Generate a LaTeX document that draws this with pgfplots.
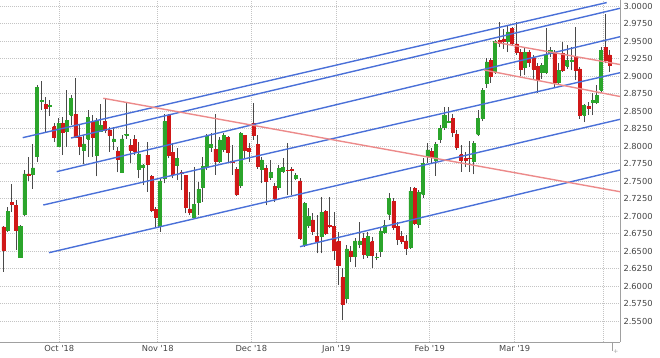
\documentclass[border=0pt]{standalone}
\usepackage{fontspec}
\setmainfont{DejaVu Sans}
\usepackage{pgfplots}
\usepackage{pgfplotstable}
\pgfplotsset{compat=1.18}
\definecolor{candgreen}{HTML}{2BA52B}
\definecolor{candred}{HTML}{D01818}
\definecolor{tline}{HTML}{4A70D8}
\definecolor{pline}{HTML}{EC8A8A}
\definecolor{gridc}{HTML}{C4C4C4}
\definecolor{axc}{HTML}{A0A0A0}
\definecolor{txt}{HTML}{444444}
\definecolor{wickc}{HTML}{4A4A4A}
\pgfplotstableread{
i o h l c
0 2.6843 2.6857 2.6200 2.6514
1 2.6800 2.7129 2.6771 2.7071
2 2.7190 2.7457 2.7057 2.7167
3 2.7147 2.7229 2.6514 2.6800
4 2.6404 2.6871 2.6400 2.6847
5 2.7019 2.7657 2.7005 2.7600
6 2.7600 2.7843 2.7500 2.7586
7 2.7600 2.8029 2.7386 2.7686
8 2.7847 2.8871 2.7771 2.8833
9 2.8636 2.8929 2.8514 2.8650
10 2.8596 2.8704 2.8205 2.8539
11 2.8562 2.8657 2.8433 2.8576
12 2.8276 2.8333 2.8057 2.8119
13 2.8000 2.8396 2.7990 2.8324
14 2.8324 2.8419 2.7871 2.8196
15 2.8205 2.8800 2.7990 2.8362
16 2.8443 2.8729 2.8300 2.8681
17 2.8453 2.8967 2.8110 2.8125
18 2.8119 2.8300 2.7871 2.7990
19 2.7943 2.8157 2.7739 2.8029
20 2.8100 2.8514 2.7847 2.8405
21 2.8348 2.8443 2.7847 2.8119
22 2.7862 2.8396 2.7567 2.8348
23 2.8214 2.8596 2.8205 2.8290
24 2.8357 2.8671 2.8181 2.8229
25 2.8229 2.8276 2.7919 2.8147
26 2.8071 2.8276 2.7943 2.8100
27 2.7929 2.7990 2.7624 2.7810
28 2.7624 2.8157 2.7614 2.8100
29 2.8153 2.8633 2.8100 2.8167
30 2.8004 2.8100 2.7753 2.7943
31 2.8095 2.8157 2.7871 2.7929
32 2.7671 2.8062 2.7538 2.7886
33 2.7690 2.7743 2.7443 2.7729
34 2.7871 2.8062 2.7348 2.7739
35 2.7567 2.7586 2.7053 2.7076
36 2.7090 2.7129 2.6829 2.6981
37 2.6847 2.7539 2.6776 2.7500
38 2.7539 2.8453 2.7467 2.8348
39 2.8433 2.8453 2.7824 2.7862
40 2.7910 2.8039 2.7539 2.7596
41 2.7719 2.7967 2.7514 2.7824
42 2.7624 2.7657 2.7371 2.7604
43 2.7576 2.7586 2.7039 2.7119
44 2.7100 2.7348 2.7014 2.7053
45 2.6976 2.7705 2.6957 2.7167
46 2.7196 2.7490 2.7014 2.7381
47 2.7405 2.7847 2.7205 2.7705
48 2.7705 2.8167 2.7657 2.8133
49 2.7976 2.8181 2.7919 2.8024
50 2.7957 2.8453 2.7586 2.7786
51 2.7786 2.8133 2.7757 2.8086
52 2.7957 2.8186 2.7914 2.8148
53 2.8119 2.8148 2.7776 2.7910
54 2.7786 2.8014 2.7586 2.7767
55 2.7671 2.7705 2.7286 2.7310
56 2.7443 2.8205 2.7400 2.8181
57 2.8148 2.8157 2.7824 2.7943
58 2.7967 2.8039 2.7776 2.7919
59 2.8324 2.8610 2.8086 2.8148
60 2.8024 2.8157 2.7671 2.7705
61 2.7671 2.7847 2.7467 2.7800
62 2.7681 2.7729 2.7157 2.7490
63 2.7548 2.7800 2.7514 2.7624
64 2.7419 2.7467 2.7205 2.7253
65 2.7405 2.7729 2.7371 2.7681
66 2.7633 2.7824 2.7614 2.7690
67 2.7657 2.8039 2.7300 2.7653
68 2.7662 2.7705 2.7300 2.7648
69 2.7539 2.7610 2.7514 2.7576
70 2.7500 2.7539 2.6657 2.6681
71 2.6586 2.7205 2.6562 2.7181
72 2.6871 2.7110 2.6829 2.6990
73 2.6943 2.7039 2.6729 2.6776
74 2.6714 2.7014 2.6467 2.6643
75 2.6705 2.7276 2.6467 2.7057
76 2.7071 2.7086 2.6729 2.6753
77 2.6862 2.7276 2.6824 2.6847
78 2.6847 2.7062 2.6371 2.6514
79 2.6633 2.6776 2.6014 2.6300
80 2.6119 2.6253 2.5514 2.5739
81 2.5824 2.6586 2.5753 2.6529
82 2.6500 2.6576 2.6343 2.6419
83 2.6419 2.6681 2.6276 2.6643
84 2.6595 2.6919 2.6538 2.6643
85 2.6681 2.6753 2.6386 2.6453
86 2.6433 2.6776 2.6400 2.6705
87 2.6633 2.6705 2.6253 2.6443
88 2.6404 2.6467 2.6371 2.6410
89 2.6490 2.6847 2.6419 2.6786
90 2.6767 2.6943 2.6743 2.6862
91 2.7024 2.7324 2.6943 2.7252
92 2.7205 2.7257 2.6800 2.6833
93 2.6847 2.6919 2.6586 2.6671
94 2.6714 2.6786 2.6600 2.6643
95 2.6643 2.6729 2.6443 2.6538
96 2.6548 2.7419 2.6529 2.7357
97 2.7395 2.7419 2.6871 2.6895
98 2.6881 2.7371 2.6829 2.7339
99 2.7310 2.7824 2.7253 2.7753
100 2.7847 2.8039 2.7753 2.7943
101 2.7919 2.7967 2.7753 2.7833
102 2.7800 2.8062 2.7576 2.8024
103 2.8100 2.8300 2.8043 2.8253
104 2.8262 2.8562 2.8229 2.8443
105 2.8343 2.8562 2.8329 2.8350
106 2.8396 2.8453 2.8133 2.8196
107 2.8167 2.8229 2.7943 2.7976
108 2.7876 2.8014 2.7633 2.7800
109 2.7824 2.7919 2.7705 2.7800
110 2.7829 2.8071 2.7633 2.7819
111 2.7776 2.8071 2.7595 2.8039
112 2.8167 2.8514 2.8143 2.8396
113 2.8390 2.8833 2.8357 2.8795
114 2.8890 2.9250 2.8830 2.9200
115 2.9220 2.9250 2.8900 2.8995
116 2.9060 2.9510 2.9030 2.9490
117 2.9510 2.9770 2.9410 2.9470
118 2.9530 2.9670 2.9390 2.9500
119 2.9490 2.9710 2.9340 2.9630
120 2.9680 2.9700 2.9440 2.9470
121 2.9460 2.9770 2.9300 2.9340
122 2.9340 2.9390 2.9000 2.9100
123 2.9130 2.9410 2.9010 2.9340
124 2.9340 2.9370 2.9130 2.9200
125 2.9250 2.9300 2.8960 2.9100
126 2.9140 2.9180 2.8750 2.8940
127 2.9060 2.9180 2.8960 2.9150
128 2.9060 2.9680 2.9030 2.9300
129 2.9320 2.9410 2.9270 2.9370
130 2.9340 2.9370 2.8840 2.8910
131 2.8910 2.9180 2.8870 2.9080
132 2.9320 2.9490 2.9060 2.9080
133 2.9140 2.9440 2.9100 2.9220
134 2.9210 2.9410 2.9080 2.9230
135 2.9270 2.9700 2.8940 2.9080
136 2.9100 2.9130 2.8390 2.8440
137 2.8440 2.8600 2.8340 2.8580
138 2.8570 2.8630 2.8440 2.8540
139 2.8630 2.8750 2.8440 2.8650
140 2.8630 2.8870 2.8600 2.8720
141 2.8800 2.9410 2.8770 2.9370
142 2.9410 2.9890 2.9180 2.9220
143 2.9300 2.9370 2.9060 2.9150
}\candles
\pgfplotsset{
  wick/.style={draw=wickc, line width=1pt, mark=none, forget plot},
}
\begin{document}
\begin{tikzpicture}
\useasboundingbox (0pt,-16pt) rectangle (660pt,342pt);
\begin{axis}[
  at={(0pt,0pt)}, anchor=south west,
  width=620pt, height=342pt, scale only axis,
  xmin=-0.778, xmax=145.45, ymin=2.52, ymax=3.00857,
  axis x line*=bottom, axis y line*=right,
  axis line style={draw=axc, line width=0.8pt},
  xtick={13.21,36.42,58.49,78.54,100.57,120.61,141.6},
  xticklabels={Oct \textquotesingle18, Nov \textquotesingle18, Dec \textquotesingle18, Jan \textquotesingle19, Feb \textquotesingle19, Mar \textquotesingle19, {}},
  ytick={2.55,2.575,2.6,2.625,2.65,2.675,2.7,2.725,2.75,2.775,2.8,2.825,2.85,2.875,2.9,2.925,2.95,2.975,3.0},
  yticklabel style={/pgf/number format/.cd, fixed, fixed zerofill, precision=4, assume math mode=true},
  tick label style={font=\fontsize{8.3}{10}\selectfont, text=txt},
  major tick length=0pt,
  grid=major,
  major grid style={draw=gridc, dash pattern=on 1pt off 1pt, line width=0.6pt},
  clip=true,
]
\pgfplotstablegetrowsof{\candles}
\pgfmathtruncatemacro\N{\pgfplotsretval-1}
\pgfplotsforeachungrouped \r in {0,...,\N}{%
  \pgfplotstablegetelem{\r}{i}\of{\candles}\let\X\pgfplotsretval
  \pgfplotstablegetelem{\r}{o}\of{\candles}\let\O\pgfplotsretval
  \pgfplotstablegetelem{\r}{h}\of{\candles}\let\H\pgfplotsretval
  \pgfplotstablegetelem{\r}{l}\of{\candles}\let\L\pgfplotsretval
  \pgfplotstablegetelem{\r}{c}\of{\candles}\let\C\pgfplotsretval
  \pgfmathsetmacro\XA{\X-0.36}%
  \pgfmathsetmacro\XB{\X+0.36}%
  \ifdim\C pt<\O pt \def\col{candred}\else\def\col{candgreen}\fi
  \edef\tmp{%
    \noexpand\addplot[wick] coordinates {(\X,\L) (\X,\H)};
    \noexpand\addplot[fill=\col, draw=\col, line width=0.5pt, mark=none, forget plot] coordinates {(\XA,\O) (\XB,\O) (\XB,\C) (\XA,\C) (\XA,\O)};
  }\tmp
}
% blue channel lines
\addplot[tline, line width=1.4pt, mark=none] coordinates {(4.575,2.8119) (142.31,3.0049)};
\addplot[tline, line width=1.4pt, mark=none] coordinates {(15.97,2.8114) (145.45,2.9967)};
\addplot[tline, line width=1.4pt, mark=none] coordinates {(12.59,2.7633) (145.45,2.9561)};
\addplot[tline, line width=1.4pt, mark=none] coordinates {(9.43,2.7157) (145.45,2.9047)};
\addplot[tline, line width=1.4pt, mark=none] coordinates {(10.78,2.6476) (145.45,2.8381)};
\addplot[tline, line width=1.4pt, mark=none] coordinates {(69.98,2.6562) (145.45,2.7657)};
% red lines
\addplot[pline, line width=1.4pt, mark=none] coordinates {(23.58,2.8682) (145.45,2.7347)};
\addplot[pline, line width=1.4pt, mark=none] coordinates {(115.73,2.9486) (145.45,2.9164)};
\addplot[pline, line width=1.4pt, mark=none] coordinates {(113.37,2.9086) (145.45,2.8707)};
\end{axis}
\draw[axc, line width=0.6pt] (612.7pt,0pt) -- (612.7pt,-9pt);
\node[text=axc, font=\fontsize{6}{6}\selectfont, inner sep=0pt] at (616pt,-10pt) {+};
\end{tikzpicture}
\end{document}
